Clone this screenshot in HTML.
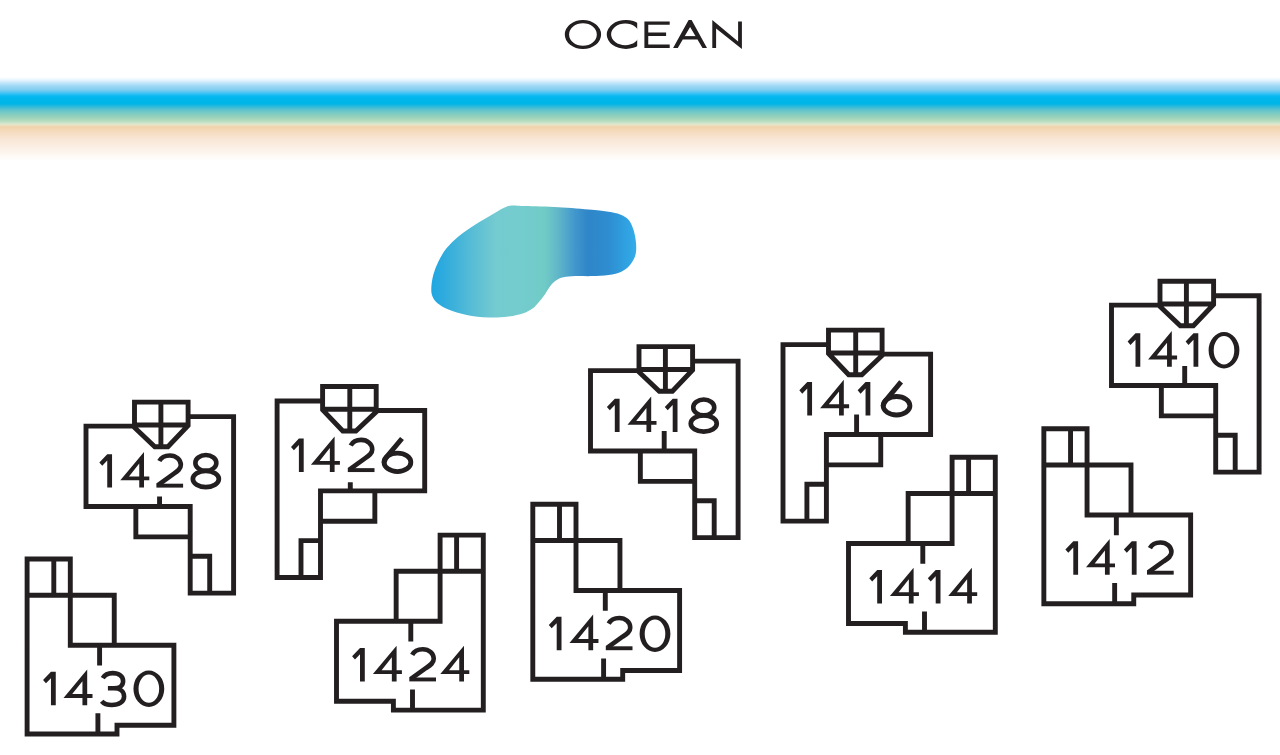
<!DOCTYPE html>
<html lang="en"><head><meta charset="utf-8"><title>Site Plan</title>
<style>html,body{margin:0;padding:0;overflow:hidden;background:#fff;font-family:"Liberation Sans",sans-serif}svg{display:block}</style></head><body>
<svg width="1280" height="755" viewBox="0 0 1280 755">
<defs>
<linearGradient id="beach" x1="0" y1="0" x2="0" y2="1">
<stop offset="0.07" stop-color="#ffffff"/>
<stop offset="0.1" stop-color="#e8f5fd"/>
<stop offset="0.15" stop-color="#a8dcf8"/>
<stop offset="0.2" stop-color="#7fcdf0"/>
<stop offset="0.23" stop-color="#45c4f6"/>
<stop offset="0.26" stop-color="#08b9f0"/>
<stop offset="0.29" stop-color="#00b6ea"/>
<stop offset="0.34" stop-color="#00b5e8"/>
<stop offset="0.35" stop-color="#15b6e0"/>
<stop offset="0.37" stop-color="#35bcd8"/>
<stop offset="0.4" stop-color="#60c3cc"/>
<stop offset="0.43" stop-color="#7acac4"/>
<stop offset="0.47" stop-color="#97d2b9"/>
<stop offset="0.51" stop-color="#b3dcbf"/>
<stop offset="0.54" stop-color="#dbe7cd"/>
<stop offset="0.55" stop-color="#e8e2c4"/>
<stop offset="0.57" stop-color="#f0d2ab"/>
<stop offset="0.59" stop-color="#f2d7b4"/>
<stop offset="0.62" stop-color="#f5dcc0"/>
<stop offset="0.69" stop-color="#f8e6d5"/>
<stop offset="0.77" stop-color="#fbefe4"/>
<stop offset="0.84" stop-color="#fdf7f1"/>
<stop offset="0.91" stop-color="#ffffff"/>
</linearGradient>
<linearGradient id="pool" gradientUnits="userSpaceOnUse" x1="432" y1="0" x2="637" y2="0">
<stop offset="0" stop-color="#1ea7e2"/>
<stop offset="0.06" stop-color="#2fabdd"/>
<stop offset="0.19" stop-color="#56bcd6"/>
<stop offset="0.31" stop-color="#74cbd0"/>
<stop offset="0.43" stop-color="#74ccce"/>
<stop offset="0.55" stop-color="#70cbc6"/>
<stop offset="0.61" stop-color="#62b8c8"/>
<stop offset="0.7" stop-color="#4096cc"/>
<stop offset="0.76" stop-color="#2f86c8"/>
<stop offset="0.86" stop-color="#2e8dd0"/>
<stop offset="0.94" stop-color="#2fa0e0"/>
<stop offset="1" stop-color="#35adeb"/>
</linearGradient>
<clipPath id="cclip"><rect x="600" y="15" width="37.2" height="40"/></clipPath>
</defs>
<rect x="0" y="0" width="1280" height="755" fill="#ffffff"/>
<rect x="0" y="70" width="1280" height="100" fill="url(#beach)"/>
<g fill="#231f20">
<path fill-rule="evenodd" d="M564.8,34.5 a18.15,14.5 0 1,0 36.3,0 a18.15,14.5 0 1,0 -36.3,0 Z M569.08,34.5 a13.87,11.25 0 1,0 27.74,0 a13.87,11.25 0 1,0 -27.74,0 Z"/>
<path clip-path="url(#cclip)" fill-rule="evenodd" d="M606.75,34.45 a19.2,14.45 0 1,0 38.4,0 a19.2,14.45 0 1,0 -38.4,0 Z M611.1,34.35 a14.1,10.8 0 1,0 28.2,0 a14.1,10.8 0 1,0 -28.2,0 Z"/>
<path d="M644.4,21.4 H669.7 V24.8 H648.25 V32.6 H666.1 V36.05 H648.25 V44.5 H669.7 V47.95 H644.4 Z"/>
<path d="M673.1,47.95 L688.6,20.1 L691.6,20.1 L707,47.95 L702.5,47.95 L690.1,26.9 L677.8,47.95 Z"/>
<rect x="683" y="36.1" width="14.5" height="3.4"/>
<path d="M712.3,47.95 V20.1 L738.1,41.4 V21.4 H741.9 V48.9 L716.1,28.4 V47.95 Z"/>
</g>
<path d="M511.8,205.5 C515.38,205.17 517.23,205.72 525,206 C532.77,206.28 547.27,206.58 558.4,207.2 C569.53,207.82 583.45,208.95 591.8,209.7 C600.15,210.45 603.77,210.92 608.5,211.7 C613.23,212.48 616.87,213.07 620.2,214.4 C623.53,215.73 626.28,217.15 628.5,219.7 C630.72,222.25 632.25,225.8 633.5,229.7 C634.75,233.6 635.67,238.92 636,243.1 C636.33,247.28 636.47,251.18 635.5,254.8 C634.53,258.42 632.48,262.02 630.2,264.8 C627.92,267.58 625.42,269.78 621.8,271.5 C618.18,273.22 613.5,274.33 608.5,275.1 C603.5,275.87 597.37,275.93 591.8,276.1 C586.23,276.27 579.83,275.9 575.1,276.1 C570.37,276.3 566.6,276.55 563.4,277.3 C560.2,278.05 558.13,279.07 555.9,280.6 C553.67,282.13 552.08,283.85 550,286.5 C547.92,289.15 545.9,293.17 543.4,296.5 C540.9,299.83 536.93,304.43 535,306.5 C533.07,308.57 533.72,307.78 531.8,308.9 C529.88,310.02 527.38,311.93 523.5,313.2 C519.62,314.47 514.35,315.8 508.5,316.5 C502.65,317.2 495.37,317.67 488.4,317.4 C481.43,317.13 473.37,316.22 466.7,314.9 C460.03,313.58 453.27,311.45 448.4,309.5 C443.53,307.55 440.15,305.37 437.5,303.2 C434.85,301.03 433.53,299.02 432.5,296.5 C431.47,293.98 431.17,291.72 431.3,288.1 C431.43,284.48 432.12,279.25 433.3,274.8 C434.48,270.35 436.17,265.85 438.4,261.4 C440.63,256.95 443.37,252.27 446.7,248.1 C450.03,243.93 453.67,240.3 458.4,236.4 C463.13,232.5 469.53,228.32 475.1,224.7 C480.67,221.08 487.07,217.48 491.8,214.7 C496.53,211.92 500.17,209.53 503.5,208 C506.83,206.47 508.22,205.83 511.8,205.5 Z" fill="url(#pool)"/>
<path d="M134.5,426.1 H86 V506.5 H190.2 V593.1 H233.6 V416.65 H188.1 M135.85,506.5 V536.85 H190.2 M190.2,556.25 H209.7 V593.1 M134.5,402.15 H188.1 V425.5 L167.9,446.7 H154.8 L134.5,427.5 Z M134.5,424.95 H188.1 M160.9,402.15 V446.7 M159.55,496.55 V506.5 M376.2,410.45 H424.7 V490.85 H320.5 V577.45 H277.1 V401 H322.6 M374.85,490.85 V521.2 H320.5 M320.5,540.6 H301 V577.45 M376.2,386.5 H322.6 V409.85 L342.8,431.05 H355.9 L376.2,411.85 Z M376.2,409.3 H322.6 M349.8,386.5 V431.05 M350.3,482.2 V490.85 M639,370.6 H590.5 V451 H694.7 V537.6 H738.1 V361.15 H692.6 M640.35,451 V481.35 H694.7 M694.7,500.75 H714.2 V537.6 M639,346.65 H692.6 V370 L672.4,391.2 H659.3 L639,372 Z M639,369.45 H692.6 M665.4,346.65 V391.2 M664.2,430.9 V451 M882.1,354.1 H930.6 V434.5 H826.4 V521.1 H783 V344.65 H828.5 M880.75,434.5 V464.85 H826.4 M826.4,484.25 H806.9 V521.1 M882.1,330.15 H828.5 V353.5 L848.7,374.7 H861.8 L882.1,355.5 Z M882.1,352.95 H828.5 M855.7,330.15 V374.7 M856.6,414.6 V434.5 M1160,305.15 H1111.5 V385.55 H1215.7 V472.15 H1259.1 V295.7 H1213.6 M1161.35,385.55 V415.9 H1215.7 M1215.7,435.3 H1235.2 V472.15 M1160,281.2 H1213.6 V304.55 L1193.4,325.75 H1180.3 L1160,306.55 Z M1160,304 H1213.6 M1186.4,281.2 V325.75 M1184.7,365.9 V385.55 M27.1,559 H70.3 V595.2 H114.25 V645.2 H173.9 V725.2 H117 V734 H27.1 Z M53.8,559 V595.2 M27.1,595.2 H70.3 M70.3,595.2 V645.2 H114.25 M99.6,645.2 V665.4 M97.9,713.3 V734 M483.3,535.1 H440.1 V571.3 H396.15 V621.3 H336.5 V701.3 H393.4 V710.1 H483.3 Z M456.6,535.1 V571.3 M483.3,571.3 H440.1 M440.1,571.3 V621.3 H396.15 M410.8,621.3 V641.5 M412.5,689.4 V710.1 M532.8,504.3 H576 V540.5 H619.95 V590.5 H679.6 V670.5 H622.7 V679.3 H532.8 Z M559.5,504.3 V540.5 M532.8,540.5 H576 M576,540.5 V590.5 H619.95 M605.3,590.5 V610.7 M603.6,658.6 V679.3 M995.3,457.3 H952.1 V493.5 H908.15 V543.5 H848.5 V623.5 H905.4 V632.3 H995.3 Z M968.6,457.3 V493.5 M995.3,493.5 H952.1 M952.1,493.5 V543.5 H908.15 M922.8,543.5 V563.7 M924.5,611.6 V632.3 M1043.85,428.75 H1087.05 V464.95 H1131 V514.95 H1190.65 V594.95 H1133.75 V603.75 H1043.85 Z M1070.55,428.75 V464.95 M1043.85,464.95 H1087.05 M1087.05,464.95 V514.95 H1131 M1116.35,514.95 V535.15 M1114.65,583.05 V603.75" fill="none" stroke="#231f20" stroke-width="4.9" stroke-linejoin="miter" stroke-linecap="butt"/>
<g>
<path d="M107.25,454.15 L112.05,454.15 L112.05,487.6 L107.25,487.6 L107.25,460.55 L102.25,465.75 L99.35,462.45 Z" fill="#231f20"/>
<path d="M144,451.95 L144,476.45 L149.3,476.45 L149.3,480.3 L144,480.3 L144,487.6 L139.25,487.6 L139.25,480.3 L120.3,480.3 Z M139.25,463.55 L139.25,476.45 L129,476.45 Z" fill="#231f20" fill-rule="evenodd"/>
<path d="M159.3,461.05 C161.2,457.45 165,455.45 169.8,455.45 C176.1,455.45 180.85,459.65 180.85,465.05 C180.85,469.15 177.8,471.15 173.2,474.15 L157.6,485.35" fill="none" stroke="#231f20" stroke-width="4.6"/><rect x="156.4" y="483.7" width="26.7" height="3.9" fill="#231f20"/>
<ellipse cx="205.85" cy="462.9" rx="10.5" ry="7.9" fill="none" stroke="#231f20" stroke-width="4.6"/><ellipse cx="205.85" cy="479" rx="13.0" ry="8.1" fill="none" stroke="#231f20" stroke-width="4.699999999999999"/>
<path d="M298.9,438.6 L303.7,438.6 L303.7,472.05 L298.9,472.05 L298.9,445 L293.9,450.2 L291,446.9 Z" fill="#231f20"/>
<path d="M334.6,436.4 L334.6,460.9 L339.9,460.9 L339.9,464.75 L334.6,464.75 L334.6,472.05 L329.85,472.05 L329.85,464.75 L310.9,464.75 Z M329.85,448 L329.85,460.9 L319.6,460.9 Z" fill="#231f20" fill-rule="evenodd"/>
<path d="M350.7,445.5 C352.6,441.9 356.4,439.9 361.2,439.9 C367.5,439.9 372.25,444.1 372.25,449.5 C372.25,453.6 369.2,455.6 364.6,458.6 L349,469.8" fill="none" stroke="#231f20" stroke-width="4.6"/><rect x="347.8" y="468.15" width="26.7" height="3.9" fill="#231f20"/>
<ellipse cx="397.45" cy="462.3" rx="13.4" ry="9.25" fill="none" stroke="#231f20" stroke-width="4.8"/><path d="M402,438.5 L387.7,455.6 Q384.3,459.6 384.1,462.6" fill="none" stroke="#231f20" stroke-width="5"/>
<path d="M614.8,398.65 L619.6,398.65 L619.6,432.1 L614.8,432.1 L614.8,405.05 L609.8,410.25 L606.9,406.95 Z" fill="#231f20"/>
<path d="M651.2,396.45 L651.2,420.95 L656.5,420.95 L656.5,424.8 L651.2,424.8 L651.2,432.1 L646.45,432.1 L646.45,424.8 L627.5,424.8 Z M646.45,408.05 L646.45,420.95 L636.2,420.95 Z" fill="#231f20" fill-rule="evenodd"/>
<path d="M672.7,398.65 L677.5,398.65 L677.5,432.1 L672.7,432.1 L672.7,405.05 L667.7,410.25 L664.8,406.95 Z" fill="#231f20"/>
<ellipse cx="703.75" cy="407.4" rx="10.5" ry="7.9" fill="none" stroke="#231f20" stroke-width="4.6"/><ellipse cx="703.75" cy="423.5" rx="13.0" ry="8.1" fill="none" stroke="#231f20" stroke-width="4.699999999999999"/>
<path d="M807.25,382.05 L812.05,382.05 L812.05,415.5 L807.25,415.5 L807.25,388.45 L802.25,393.65 L799.35,390.35 Z" fill="#231f20"/>
<path d="M843.8,379.85 L843.8,404.35 L849.1,404.35 L849.1,408.2 L843.8,408.2 L843.8,415.5 L839.05,415.5 L839.05,408.2 L820.1,408.2 Z M839.05,391.45 L839.05,404.35 L828.8,404.35 Z" fill="#231f20" fill-rule="evenodd"/>
<path d="M865.55,382.05 L870.35,382.05 L870.35,415.5 L865.55,415.5 L865.55,388.45 L860.55,393.65 L857.65,390.35 Z" fill="#231f20"/>
<ellipse cx="896.55" cy="405.75" rx="13.4" ry="9.25" fill="none" stroke="#231f20" stroke-width="4.8"/><path d="M901.1,381.95 L886.8,399.05 Q883.4,403.05 883.2,406.05" fill="none" stroke="#231f20" stroke-width="5"/>
<path d="M1135.5,333.3 L1140.3,333.3 L1140.3,366.75 L1135.5,366.75 L1135.5,339.7 L1130.5,344.9 L1127.6,341.6 Z" fill="#231f20"/>
<path d="M1171.8,331.1 L1171.8,355.6 L1177.1,355.6 L1177.1,359.45 L1171.8,359.45 L1171.8,366.75 L1167.05,366.75 L1167.05,359.45 L1148.1,359.45 Z M1167.05,342.7 L1167.05,355.6 L1156.8,355.6 Z" fill="#231f20" fill-rule="evenodd"/>
<path d="M1193.5,333.3 L1198.3,333.3 L1198.3,366.75 L1193.5,366.75 L1193.5,339.7 L1188.5,344.9 L1185.6,341.6 Z" fill="#231f20"/>
<path d="M1208.6,350.25 a15.4,18.2 0 1,0 30.8,0 a15.4,18.2 0 1,0 -30.8,0 Z M1213.7,350.25 a10.3,14.1 0 1,0 20.6,0 a10.3,14.1 0 1,0 -20.6,0 Z" fill="#231f20" fill-rule="evenodd"/>
<path d="M50.96,671.75 L55.76,671.75 L55.76,705.2 L50.96,705.2 L50.96,678.15 L45.96,683.35 L43.06,680.05 Z" fill="#231f20"/>
<path d="M87.2,669.55 L87.2,694.05 L92.5,694.05 L92.5,697.9 L87.2,697.9 L87.2,705.2 L82.45,705.2 L82.45,697.9 L63.5,697.9 Z M82.45,681.15 L82.45,694.05 L72.2,694.05 Z" fill="#231f20" fill-rule="evenodd"/>
<path d="M102.75,678.05 C104.6,674.85 108.2,673.1 112.6,673.1 C119,673.1 123.1,676.45 123.1,681.15 C123.1,685.55 119.6,688.3 114,688.3 L107.9,688.3 M114,688.3 C120,688.3 124.1,691.55 124.1,696.55 C124.1,701.65 119.1,705.05 111.9,705.05 C107.4,705.05 103.8,703.75 101.7,701.25" fill="none" stroke="#231f20" stroke-width="4.6"/>
<path d="M133.45,688.7 a15.4,18.2 0 1,0 30.8,0 a15.4,18.2 0 1,0 -30.8,0 Z M138.55,688.7 a10.3,14.1 0 1,0 20.6,0 a10.3,14.1 0 1,0 -20.6,0 Z" fill="#231f20" fill-rule="evenodd"/>
<path d="M360,647.95 L364.8,647.95 L364.8,681.4 L360,681.4 L360,654.35 L355,659.55 L352.1,656.25 Z" fill="#231f20"/>
<path d="M396.6,645.75 L396.6,670.25 L401.9,670.25 L401.9,674.1 L396.6,674.1 L396.6,681.4 L391.85,681.4 L391.85,674.1 L372.9,674.1 Z M391.85,657.35 L391.85,670.25 L381.6,670.25 Z" fill="#231f20" fill-rule="evenodd"/>
<path d="M412.2,654.85 C414.1,651.25 417.9,649.25 422.7,649.25 C429,649.25 433.75,653.45 433.75,658.85 C433.75,662.95 430.7,664.95 426.1,667.95 L410.5,679.15" fill="none" stroke="#231f20" stroke-width="4.6"/><rect x="409.3" y="677.5" width="26.7" height="3.9" fill="#231f20"/>
<path d="M464,645.75 L464,670.25 L469.3,670.25 L469.3,674.1 L464,674.1 L464,681.4 L459.25,681.4 L459.25,674.1 L440.3,674.1 Z M459.25,657.35 L459.25,670.25 L449,670.25 Z" fill="#231f20" fill-rule="evenodd"/>
<path d="M556.7,616.75 L561.5,616.75 L561.5,650.2 L556.7,650.2 L556.7,623.15 L551.7,628.35 L548.8,625.05 Z" fill="#231f20"/>
<path d="M593.15,614.55 L593.15,639.05 L598.45,639.05 L598.45,642.9 L593.15,642.9 L593.15,650.2 L588.4,650.2 L588.4,642.9 L569.45,642.9 Z M588.4,626.15 L588.4,639.05 L578.15,639.05 Z" fill="#231f20" fill-rule="evenodd"/>
<path d="M608.7,623.65 C610.6,620.05 614.4,618.05 619.2,618.05 C625.5,618.05 630.25,622.25 630.25,627.65 C630.25,631.75 627.2,633.75 622.6,636.75 L607,647.95" fill="none" stroke="#231f20" stroke-width="4.6"/><rect x="605.8" y="646.3" width="26.7" height="3.9" fill="#231f20"/>
<path d="M639.6,633.7 a15.4,18.2 0 1,0 30.8,0 a15.4,18.2 0 1,0 -30.8,0 Z M644.7,633.7 a10.3,14.1 0 1,0 20.6,0 a10.3,14.1 0 1,0 -20.6,0 Z" fill="#231f20" fill-rule="evenodd"/>
<path d="M877.2,569.95 L882,569.95 L882,603.4 L877.2,603.4 L877.2,576.35 L872.2,581.55 L869.3,578.25 Z" fill="#231f20"/>
<path d="M913.6,567.75 L913.6,592.25 L918.9,592.25 L918.9,596.1 L913.6,596.1 L913.6,603.4 L908.85,603.4 L908.85,596.1 L889.9,596.1 Z M908.85,579.35 L908.85,592.25 L898.6,592.25 Z" fill="#231f20" fill-rule="evenodd"/>
<path d="M935.7,569.95 L940.5,569.95 L940.5,603.4 L935.7,603.4 L935.7,576.35 L930.7,581.55 L927.8,578.25 Z" fill="#231f20"/>
<path d="M971.9,567.75 L971.9,592.25 L977.2,592.25 L977.2,596.1 L971.9,596.1 L971.9,603.4 L967.15,603.4 L967.15,596.1 L948.2,596.1 Z M967.15,579.35 L967.15,592.25 L956.9,592.25 Z" fill="#231f20" fill-rule="evenodd"/>
<path d="M1073.3,541.2 L1078.1,541.2 L1078.1,574.65 L1073.3,574.65 L1073.3,547.6 L1068.3,552.8 L1065.4,549.5 Z" fill="#231f20"/>
<path d="M1109.7,539 L1109.7,563.5 L1115,563.5 L1115,567.35 L1109.7,567.35 L1109.7,574.65 L1104.95,574.65 L1104.95,567.35 L1086,567.35 Z M1104.95,550.6 L1104.95,563.5 L1094.7,563.5 Z" fill="#231f20" fill-rule="evenodd"/>
<path d="M1131.8,541.2 L1136.6,541.2 L1136.6,574.65 L1131.8,574.65 L1131.8,547.6 L1126.8,552.8 L1123.9,549.5 Z" fill="#231f20"/>
<path d="M1149.9,548.1 C1151.8,544.5 1155.6,542.5 1160.4,542.5 C1166.7,542.5 1171.45,546.7 1171.45,552.1 C1171.45,556.2 1168.4,558.2 1163.8,561.2 L1148.2,572.4" fill="none" stroke="#231f20" stroke-width="4.6"/><rect x="1147" y="570.75" width="26.7" height="3.9" fill="#231f20"/>
</g>
</svg></body></html>
